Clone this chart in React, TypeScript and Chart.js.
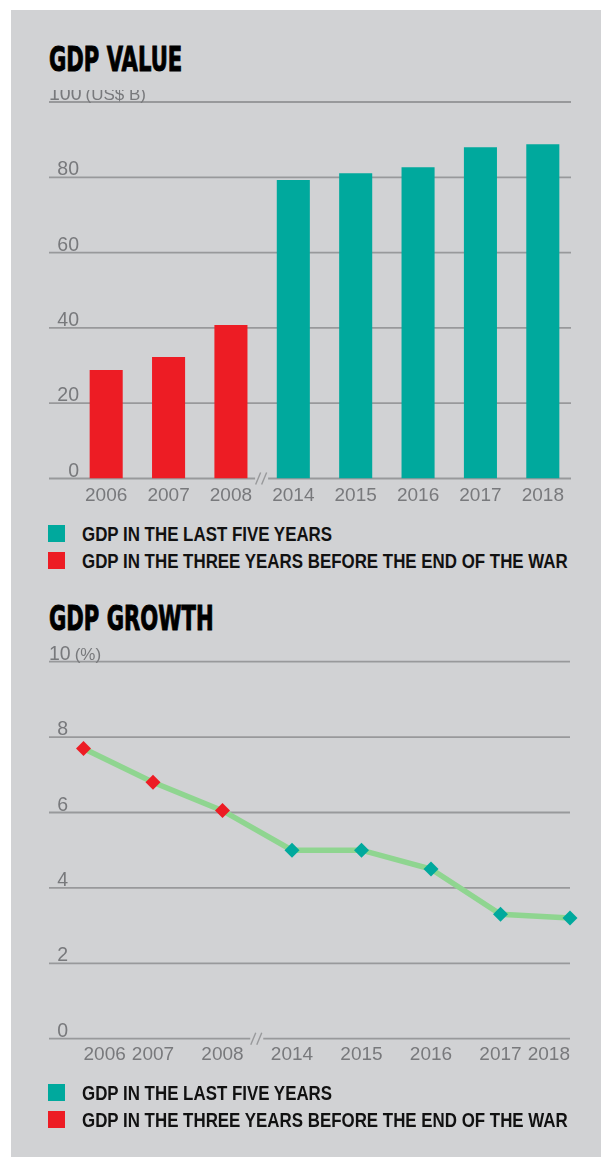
import React, { useEffect, useRef } from "react";
import { Chart, registerables } from "chart.js";

Chart.register(...registerables);

// ---------- data ----------
const YEARS = ["2006", "2007", "2008", "2014", "2015", "2016", "2017", "2018"];
const GDP_BEFORE_WAR_END: (number | null)[] = [28.8, 32.3, 40.8, null, null, null, null, null];
const GDP_LAST_FIVE: (number | null)[] = [null, null, null, 79.3, 81.1, 82.7, 88.0, 88.8];
const GDP_Y_TICKS = [0, 20, 40, 60, 80, 100];
const GDP_UNIT = "(US$ B)";

const GROWTH = [7.7, 6.8, 6.05, 5.0, 5.0, 4.5, 3.3, 3.2];
const GROWTH_PERIOD = ["before", "before", "before", "last", "last", "last", "last", "last"];
const GROWTH_Y_TICKS = [0, 2, 4, 6, 8, 10];
const GROWTH_UNIT = "(%)";

const LEGEND_LABELS = ["GDP IN THE LAST FIVE YEARS", "GDP IN THE THREE YEARS BEFORE THE END OF THE WAR"];
const BREAK_AFTER_INDEX = 2;

// ---------- styles ----------
const PANEL = "#d1d2d4";
const TEAL = "#00a99d";
const RED = "#ed1c24";
const LINE_GREEN = "#8fd590";
const GRID = "#98999b";
const TICK_COLOR = "#78797c";
const TICK_FONT = '"Liberation Sans", Arial, sans-serif';
const TICK_SIZE = 19.5;

type AxisOpts = {
  id: string;
  ticks: number[];
  unit: string;
  unitSize: number;
  gridLeft: number;
  gridRightInset: number;
  labelRight: number;
};

function axisPlugin(o: AxisOpts) {
  return {
    id: o.id,
    beforeDatasetsDraw(chart: any) {
      const { ctx, chartArea } = chart;
      const ys = chart.scales.y;
      const xs = chart.scales.x;
      ctx.save();
      ctx.strokeStyle = GRID;
      ctx.lineWidth = 1.8;
      const right = chartArea.right - o.gridRightInset;
      o.ticks.forEach((v) => {
        const py = ys.getPixelForValue(v);
        ctx.beginPath();
        ctx.moveTo(o.gridLeft, py);
        ctx.lineTo(right, py);
        ctx.stroke();
      });
      // axis break marks
      const y0 = ys.getPixelForValue(0);
      const bx = (xs.getPixelForValue(BREAK_AFTER_INDEX) + xs.getPixelForValue(BREAK_AFTER_INDEX + 1)) / 2;
      ctx.fillStyle = PANEL;
      ctx.fillRect(bx - 7, y0 - 3, 13, 6);
      ctx.lineWidth = 1.4;
      [-4, 2].forEach((c) => {
        ctx.beginPath();
        ctx.moveTo(bx + c - 2.5, y0 + 6);
        ctx.lineTo(bx + c + 2.5, y0 - 6);
        ctx.stroke();
      });
      // tick labels
      ctx.fillStyle = TICK_COLOR;
      ctx.textBaseline = "alphabetic";
      o.ticks.forEach((v, i) => {
        const py = ys.getPixelForValue(v) - 2;
        const t = String(v);
        ctx.font = `${TICK_SIZE}px ${TICK_FONT}`;
        if (i === o.ticks.length - 1) {
          ctx.textAlign = "left";
          ctx.fillText(t, o.gridLeft, py);
          const w = ctx.measureText(t).width;
          ctx.font = `${o.unitSize}px ${TICK_FONT}`;
          ctx.fillText(o.unit, o.gridLeft + w + 4, py);
        } else {
          ctx.textAlign = "right";
          ctx.fillText(t, o.labelRight, py);
        }
      });
      ctx.restore();
    },
  };
}

function Title({ text, top }: { text: string; top: number }) {
  return (
    <div
      style={{
        position: "absolute",
        left: 49,
        top,
        fontFamily: '"DejaVu Sans", sans-serif',
        fontWeight: "bold",
        fontSize: 33,
        lineHeight: "33px",
        color: "#000",
        whiteSpace: "nowrap",
        transform: "scaleX(0.64)",
        transformOrigin: "left top",
        WebkitTextStroke: "1px #000",
      }}
    >
      {text}
    </div>
  );
}

function LegendRow({ color, label, top }: { color: string; label: string; top: number }) {
  return (
    <>
      <div style={{ position: "absolute", left: 48, top: top + 1, width: 17, height: 17, background: color }} />
      <div
        style={{
          position: "absolute",
          left: 82,
          top,
          fontFamily: TICK_FONT,
          fontWeight: "bold",
          fontSize: 20,
          lineHeight: "20px",
          color: "#111",
          whiteSpace: "nowrap",
          transform: "scaleX(0.845)",
          transformOrigin: "left top",
        }}
      >
        {label}
      </div>
    </>
  );
}

export default function App() {
  const barRef = useRef<HTMLCanvasElement>(null);
  const lineRef = useRef<HTMLCanvasElement>(null);

  useEffect(() => {
    const xTicksFont = { family: TICK_FONT, size: 19 };

    const bar = new Chart(barRef.current as HTMLCanvasElement, {
      type: "bar",
      data: {
        labels: YEARS,
        datasets: [
          { label: LEGEND_LABELS[0], data: GDP_LAST_FIVE, backgroundColor: TEAL },
          { label: LEGEND_LABELS[1], data: GDP_BEFORE_WAR_END, backgroundColor: RED },
        ],
      },
      options: {
        animation: false,
        responsive: true,
        maintainAspectRatio: false,
        events: [],
        layout: { padding: { left: 75, right: 27, top: 12, bottom: 6.5 } },
        datasets: { bar: { grouped: false, barPercentage: 0.53, categoryPercentage: 1, borderWidth: 0 } },
        plugins: { legend: { display: false }, tooltip: { enabled: false } },
        scales: {
          x: {
            offset: true,
            grid: { display: false, drawTicks: false },
            border: { display: false },
            ticks: { font: xTicksFont, color: TICK_COLOR, padding: 6, maxRotation: 0, autoSkip: false },
            afterFit: (s: any) => {
              s.height = 30;
            },
          },
          y: { display: false, min: 0, max: 100 },
        },
      } as any,
      plugins: [
        axisPlugin({
          id: "barAxis",
          ticks: GDP_Y_TICKS,
          unit: GDP_UNIT,
          unitSize: 17,
          gridLeft: 49,
          gridRightInset: 3,
          labelRight: 79,
        }),
      ],
    });

    const line = new Chart(lineRef.current as HTMLCanvasElement, {
      type: "line",
      data: {
        labels: YEARS,
        datasets: [
          {
            label: "GDP growth",
            data: GROWTH,
            borderColor: LINE_GREEN,
            borderWidth: 5.5,
            tension: 0,
            fill: false,
            clip: false,
            pointStyle: "rectRot",
            pointRadius: 7.5,
            pointBorderWidth: 0,
            pointBackgroundColor: GROWTH_PERIOD.map((p) => (p === "last" ? TEAL : RED)),
            pointBorderColor: GROWTH_PERIOD.map((p) => (p === "last" ? TEAL : RED)),
          } as any,
        ],
      },
      options: {
        animation: false,
        responsive: true,
        maintainAspectRatio: false,
        events: [],
        layout: { padding: { left: 83.5, right: 31, top: 16.7, bottom: 16.3 } },
        plugins: { legend: { display: false }, tooltip: { enabled: false } },
        scales: {
          x: {
            offset: false,
            grid: { display: false, drawTicks: false },
            border: { display: false },
            ticks: { font: xTicksFont, color: TICK_COLOR, padding: 5, align: "inner", maxRotation: 0, autoSkip: false },
            afterFit: (s: any) => {
              s.height = 30;
            },
          },
          y: { display: false, min: 0, max: 10 },
        },
      } as any,
      plugins: [
        axisPlugin({
          id: "lineAxis",
          ticks: GROWTH_Y_TICKS,
          unit: GROWTH_UNIT,
          unitSize: 17,
          gridLeft: 49,
          gridRightInset: 0,
          labelRight: 68,
        }),
      ],
    });

    return () => {
      bar.destroy();
      line.destroy();
    };
  }, []);

  return (
    <div style={{ position: "absolute", left: 0, top: 0, width: 601, height: 1157, background: "#fff", overflow: "hidden" }}>
      <div style={{ position: "absolute", left: 11, top: 10, width: 590, height: 1147, background: PANEL }} />
      <Title text="GDP VALUE" top={43} />
      <div style={{ position: "absolute", left: 0, top: 90, width: 601, height: 425 }}>
        <canvas ref={barRef} />
      </div>
      <LegendRow color={TEAL} label={LEGEND_LABELS[0]} top={524} />
      <LegendRow color={RED} label={LEGEND_LABELS[1]} top={551} />

      <Title text="GDP GROWTH" top={602} />
      <div style={{ position: "absolute", left: 0, top: 645, width: 601, height: 440 }}>
        <canvas ref={lineRef} />
      </div>
      <LegendRow color={TEAL} label={LEGEND_LABELS[0]} top={1083} />
      <LegendRow color={RED} label={LEGEND_LABELS[1]} top={1110} />
    </div>
  );
}
